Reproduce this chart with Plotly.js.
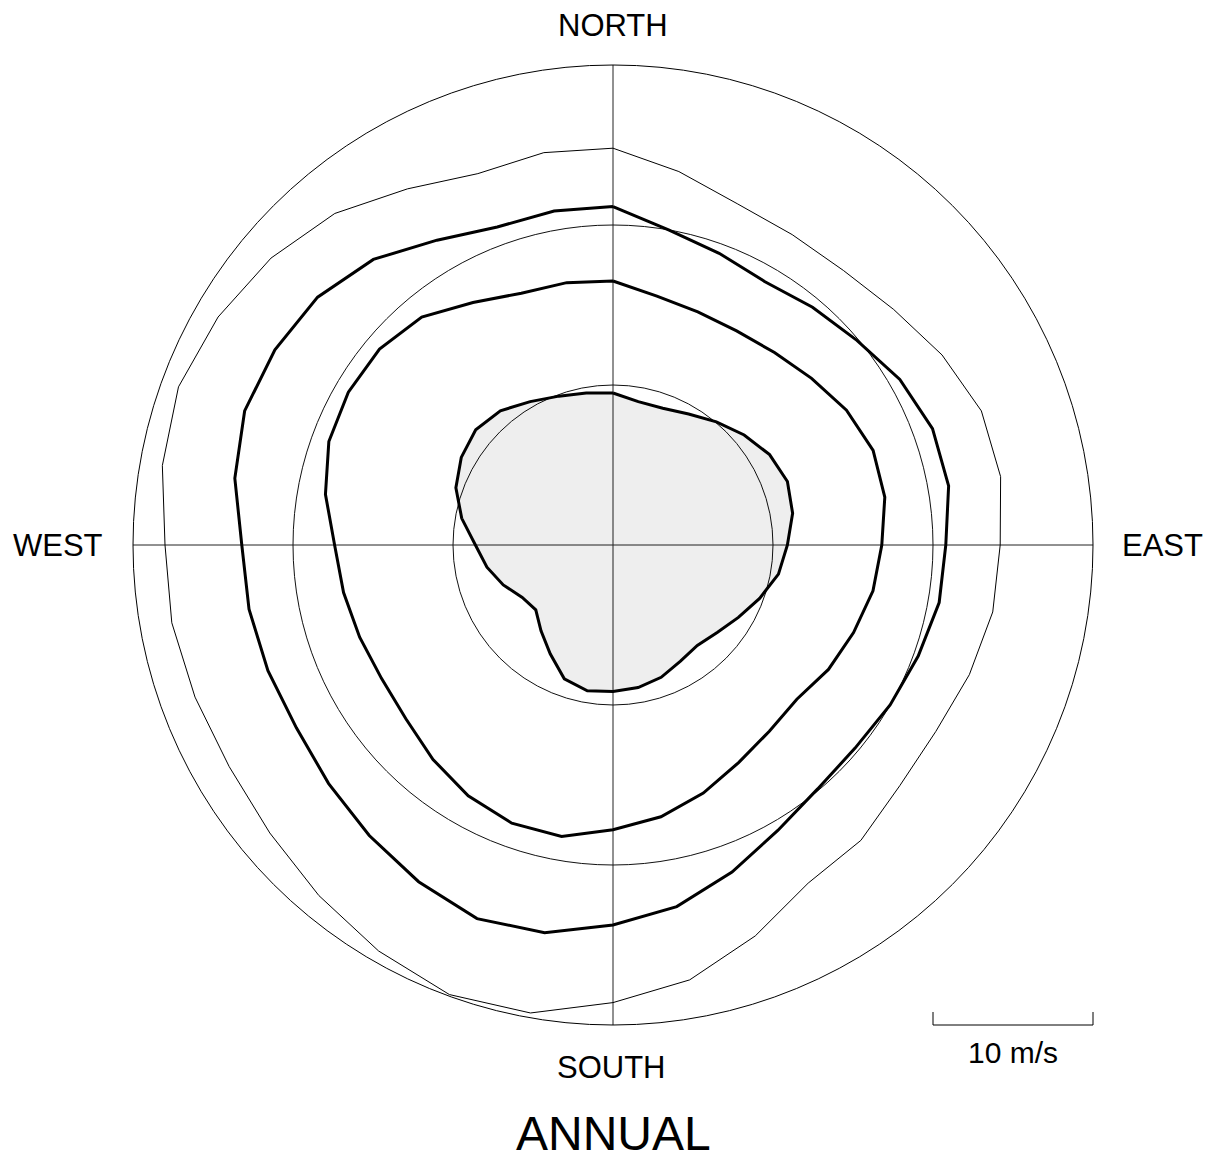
<!DOCTYPE html>
<html>
<head>
<meta charset="utf-8">
<script src="https://cdn.plot.ly/plotly-3.0.1.min.js"></script>
<style>
  html, body { margin: 0; padding: 0; background: #fff; }
  #chart { width: 1211px; height: 1161px; }
</style>
</head>
<body>
<div id="chart"></div>
<script>
// Wind direction (degrees, clockwise from North)
const directions = [0,10,20,30,40,50,60,70,80,90,100,110,120,130,140,150,160,170,
                    180,190,200,210,220,230,240,250,260,270,280,290,300,310,320,330,340,350];

// Wind speed contours (m/s)
const outerThin = [24.8,23.7,22.7,22.4,22.4,22.9,23.75,24.5,24.6,24.2,24.1,23.7,23.3,23.4,24.1,24.4,26.0,27.6,
                   28.6,29.7,29.9,29.3,28.6,28.0,27.7,27.8,28.0,28.0,28.6,28.9,28.5,27.9,27.05,25.7,24.7,24.9];
const outerThick = [21.15,20.0,19.4,19.0,19.4,19.9,20.7,21.25,21.3,20.8,20.7,20.3,20.0,19.75,19.9,20.6,21.75,22.95,
                    23.75,24.6,24.85,24.3,23.7,23.2,22.85,22.95,23.1,23.2,24.0,24.5,24.4,24.1,23.3,22.0,21.15,21.2];
const innerThick = [16.5,15.8,15.5,15.45,15.7,16.2,16.85,17.3,17.25,16.8,16.5,16.0,15.55,15.0,15.2,15.7,16.5,17.25,
                    17.8,18.5,18.5,18.1,17.5,16.9,16.7,16.85,17.1,17.4,18.25,18.9,19.1,19.05,18.6,17.5,16.75,16.65];
const innerFilled = [9.5,9.1,9.1,9.45,10.05,10.7,11.3,11.6,11.4,10.9,10.5,9.75,9.05,8.5,8.2,8.4,8.8,9.05,
                     9.15,9.25,8.9,7.85,7.0,6.3,6.55,7.3,8.0,8.6,9.6,10.45,10.95,11.2,10.95,10.35,9.9,9.65];

const gridRings = [10, 20];
const maxSpeed = 30;
const compassLabels = ['NORTH', 'EAST', 'SOUTH', 'WEST'];
const chartTitle = 'ANNUAL';
const scaleLabel = '10 m/s';

function closed(arr) { return arr.concat([arr[0]]); }
const theta = closed(directions);

const traces = [
  { r: closed(innerFilled), theta: theta, fill: 'toself', fillcolor: 'rgba(0,0,0,0.065)',
    line: { color: '#000', width: 3 } },
  { r: closed(innerThick), theta: theta, line: { color: '#000', width: 3 } },
  { r: closed(outerThick), theta: theta, line: { color: '#000', width: 3 } },
  { r: closed(outerThin), theta: theta, line: { color: '#000', width: 1 } }
].map(t => Object.assign({ type: 'scatterpolar', mode: 'lines', hoverinfo: 'skip', showlegend: false }, t));

const W = 1211, H = 1161;
const cx = 613, cy = 545, R = 480;
const px = x => x / W;
const py = y => (H - y) / H;
const font = { family: 'Arial, "Liberation Sans", sans-serif', color: '#000' };

const ann = (text, x, y, size, extra) => Object.assign({
  text: text, x: px(x), y: py(y), xref: 'paper', yref: 'paper',
  xanchor: 'center', yanchor: 'middle', showarrow: false,
  font: Object.assign({}, font, { size: size })
}, extra || {});

const layout = {
  width: W, height: H, autosize: false,
  margin: { l: 0, r: 0, t: 0, b: 0 },
  paper_bgcolor: '#fff',
  showlegend: false,
  polar: {
    domain: { x: [px(cx - R), px(cx + R)], y: [py(cy + R), py(cy - R)] },
    bgcolor: '#fff',
    radialaxis: {
      range: [0, maxSpeed], tickmode: 'array', tickvals: gridRings,
      showticklabels: false, ticks: '', showline: false,
      gridcolor: '#111', gridwidth: 1
    },
    angularaxis: {
      rotation: 90, direction: 'clockwise',
      tickmode: 'array', tickvals: [0, 90, 180, 270],
      showticklabels: false, ticks: '',
      showgrid: true, gridcolor: '#222', gridwidth: 1,
      showline: true, linecolor: '#000', linewidth: 1
    }
  },
  annotations: [
    ann(compassLabels[0], 613, 25, 31),
    ann(compassLabels[1], 1162, 545, 31),
    ann(compassLabels[2], 611, 1067, 31),
    ann(compassLabels[3], 58, 545, 31),
    ann(chartTitle, 613.5, 1161, 48, { yanchor: 'bottom', borderpad: 0 }),
    ann(scaleLabel, 1013, 1052, 30)
  ],
  shapes: [
    { type: 'path', xref: 'paper', yref: 'paper',
      path: 'M ' + px(933) + ',' + py(1012) + ' L ' + px(933) + ',' + py(1025) +
            ' L ' + px(1093) + ',' + py(1025) + ' L ' + px(1093) + ',' + py(1012),
      line: { color: '#000', width: 1 } }
  ]
};

Plotly.newPlot('chart', traces, layout, { displayModeBar: false, staticPlot: true });
</script>
</body>
</html>
